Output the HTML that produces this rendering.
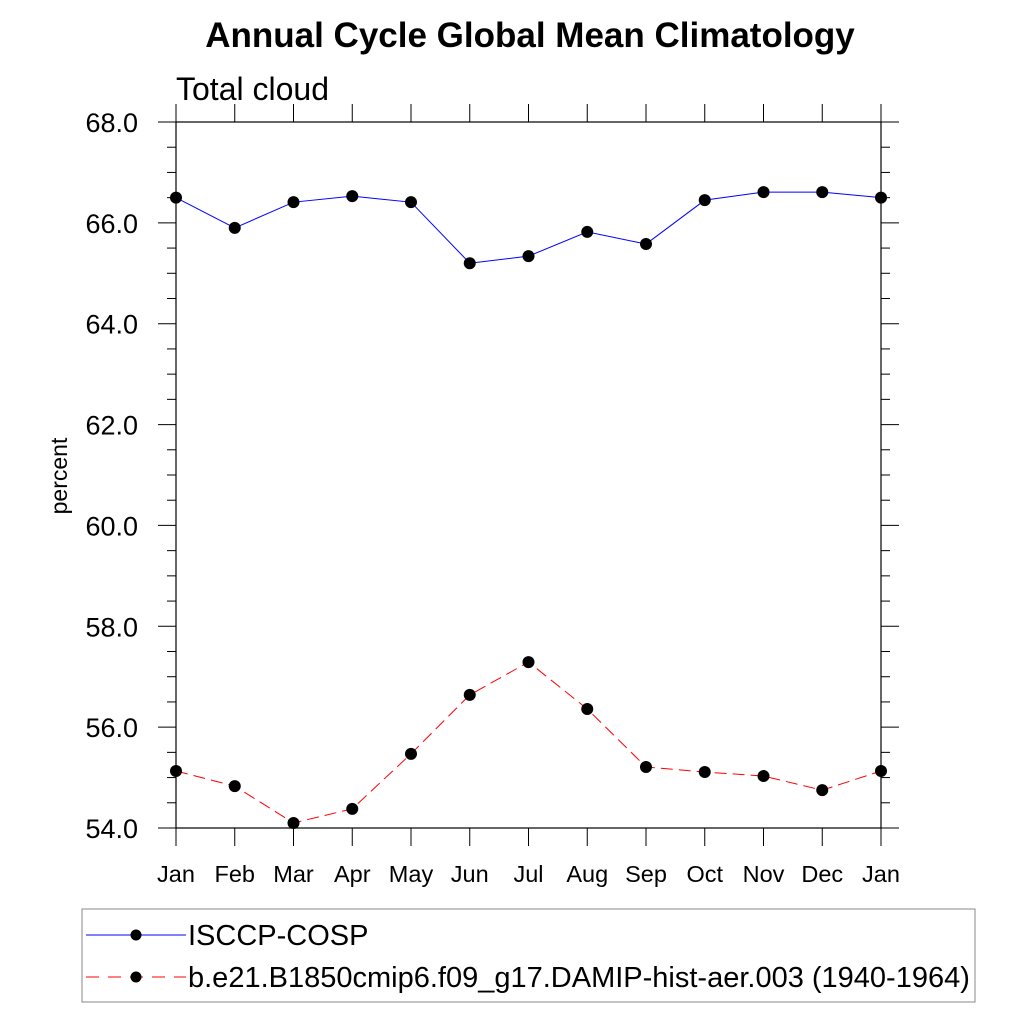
<!DOCTYPE html>
<html><head><meta charset="utf-8"><style>
body{margin:0;background:#fff}
svg text{font-family:"Liberation Sans",sans-serif}
</style></head><body>
<svg id="chart" width="1024" height="1024" xmlns="http://www.w3.org/2000/svg">
<text x="530" y="47" text-anchor="middle" font-size="35" font-weight="bold">Annual Cycle Global Mean Climatology</text>
<text x="176" y="100" font-size="32">Total cloud</text>
<text transform="translate(67,476) rotate(-90)" text-anchor="middle" font-size="23">percent</text>
<g id="axes"></g>
<g id="series"></g>
<g>
<rect x="82" y="909" width="893" height="93" fill="none" stroke="#888" stroke-width="1"/>
<g>
<line x1="86" y1="935" x2="186" y2="935" stroke="#00f" stroke-width="1"/>
<circle cx="136" cy="935" r="5.5" fill="#000"/>
<text x="188" y="945" font-size="29">ISCCP-COSP</text></g>
<g>
<line x1="86" y1="977" x2="186" y2="977" stroke="#f00" stroke-width="1" stroke-dasharray="13,9"/>
<circle cx="136" cy="977" r="5.5" fill="#000"/>
<text x="188" y="987" font-size="29">b.e21.B1850cmip6.f09_g17.DAMIP-hist-aer.003 (1940-1964)</text></g>
</g>
</svg>
<script>
const months=["Jan","Feb","Mar","Apr","May","Jun","Jul","Aug","Sep","Oct","Nov","Dec","Jan"];
const obsValues=[66.5,65.9,66.41,66.53,66.41,65.2,65.34,65.82,65.58,66.45,66.61,66.61,66.5];
const modelValues=[55.13,54.83,54.1,54.38,55.47,56.64,57.29,56.36,55.21,55.11,55.03,54.75,55.13];
const yTicks=[54,56,58,60,62,64,66,68];
const NS="http://www.w3.org/2000/svg";
const L=176,R=881,T=122,B=828,ymin=54,ymax=68;
const xs=i=>L+i*(R-L)/(months.length-1);
const ys=v=>B-(v-ymin)/(ymax-ymin)*(B-T);
function mk(tag,attrs,parent){const e=document.createElementNS(NS,tag);for(const k in attrs)e.setAttribute(k,attrs[k]);parent.appendChild(e);return e;}
const ax=document.getElementById('axes');
const frame=mk('rect',{x:L,y:T,width:R-L,height:B-T,fill:'none',stroke:'#000','stroke-width':1.2},ax);


for(let v=ymin;v<=ymax+1e-9;v+=0.5){
 const y=ys(v),major=Math.abs(v-Math.round(v/2)*2)<1e-9,len=major?18:9;
 mk('line',{x1:L-len,y1:y,x2:L,y2:y,stroke:'#000','stroke-width':1},ax);
 mk('line',{x1:R,y1:y,x2:R+len,y2:y,stroke:'#000','stroke-width':1},ax);
}
yTicks.forEach(v=>{
 const t=mk('text',{x:138,y:ys(v)+10,'text-anchor':'end','font-size':27},ax);
 t.textContent=v.toFixed(1);
 
 
});
months.forEach((m,i)=>{
 const x=xs(i);
 mk('line',{x1:x,y1:B,x2:x,y2:B+18,stroke:'#000','stroke-width':1},ax);
 mk('line',{x1:x,y1:T-18,x2:x,y2:T,stroke:'#000','stroke-width':1},ax);
 const t=mk('text',{x:x,y:882,'text-anchor':'middle','font-size':23.5},ax);
 t.textContent=m;
 
 
});
const sg=document.getElementById('series');
function draw(vals,color,dash,name){
 const pts=vals.map((v,i)=>xs(i)+','+ys(v)).join(' ');
 const pl=mk('polyline',{points:pts,fill:'none',stroke:color,'stroke-width':1,'stroke-dasharray':dash},sg);
 
 
 vals.forEach((v,i)=>{
  const c=mk('circle',{cx:xs(i),cy:ys(v),r:6,fill:'#000'},sg);
  
  
 });
}
draw(obsValues,'#00f','none','isccp');
draw(modelValues,'#f00','12,6','model');
</script>
</body></html>
